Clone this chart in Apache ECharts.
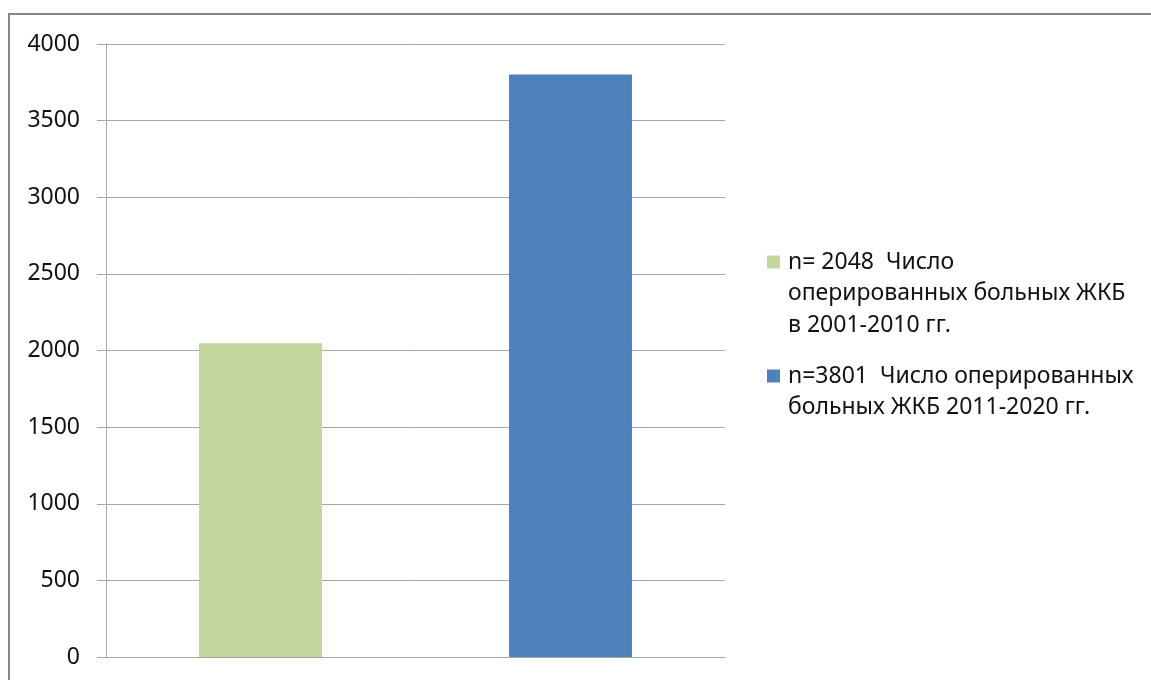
<!DOCTYPE html>
<html><head><meta charset="utf-8">
<script src="https://cdn.jsdelivr.net/npm/echarts@6/dist/echarts.min.js"></script>
<style>html,body{margin:0;padding:0;background:#fff}#c{width:1151px;height:680px}</style>
</head><body><div id="c"></div>
<script>
const categories = [''];
const seriesNames = [
  'n= 2048  Число оперированных больных ЖКБ в 2001-2010 гг.',
  'n=3801  Число оперированных больных ЖКБ 2011-2020 гг.'
];
const legendLabels = [
  ['n= 2048  Число', 'оперированных больных ЖКБ', 'в 2001-2010 гг.'],
  ['n=3801  Число оперированных', 'больных ЖКБ 2011-2020 гг.']
];
const values1 = [2048];
const values2 = [3801];
const yTicks = [0, 500, 1000, 1500, 2000, 2500, 3000, 3500, 4000];
const colors = ['#C3D69B', '#4F81BD'];

const FONT = 'Noto Sans';
const FS = 23;
const LH = 31.5;
const chart = echarts.init(document.getElementById('c'), null, {renderer: 'canvas'});
function legendFor(i, iconY) {
  const lines = legendLabels[i];
  const n = lines.length;
  const text = '\n'.repeat(n - 1) + lines.join('\n');
  return {
    left: 767, top: iconY - (2 * n - 1) * LH / 2, orient: 'vertical', padding: 0,
    itemWidth: 13, itemHeight: 13, icon: 'rect', selectedMode: false,
    data: [seriesNames[i]],
    formatter: () => text,
    textStyle: {fontFamily: FONT, fontSize: FS, lineHeight: LH, color: '#111',
      padding: [0, 0, 0, 3]}
  };
}
chart.setOption({
  animation: false,
  graphic: [{type: 'rect', shape: {x: 9, y: 14, width: 1200, height: 720},
    style: {fill: 'none', stroke: '#878787', lineWidth: 2}, silent: true}],
  legend: [legendFor(0, 262), legendFor(1, 376)],
  grid: {left: 106, right: 426, top: 44, bottom: 23, containLabel: false},
  xAxis: {type: 'category', data: categories,
    axisLine: {lineStyle: {color: '#a6a6a6', width: 1}},
    axisTick: {show: false}, axisLabel: {show: false}},
  yAxis: {type: 'value', min: yTicks[0], max: yTicks[yTicks.length - 1], interval: 500,
    axisLine: {show: true, lineStyle: {color: '#a6a6a6', width: 1}},
    axisTick: {show: true, length: 9, lineStyle: {color: '#a6a6a6'}},
    axisLabel: {margin: 26, fontFamily: FONT, fontSize: FS, color: '#111', formatter: v => String(v)},
    splitLine: {lineStyle: {color: '#a6a6a6', width: 1}}},
  series: [
    {name: seriesNames[0], type: 'bar', data: values1, barWidth: 123, barGap: '152%', itemStyle: {color: colors[0]}},
    {name: seriesNames[1], type: 'bar', data: values2, barWidth: 123, barGap: '152%', itemStyle: {color: colors[1]}}
  ]
});
</script></body></html>
